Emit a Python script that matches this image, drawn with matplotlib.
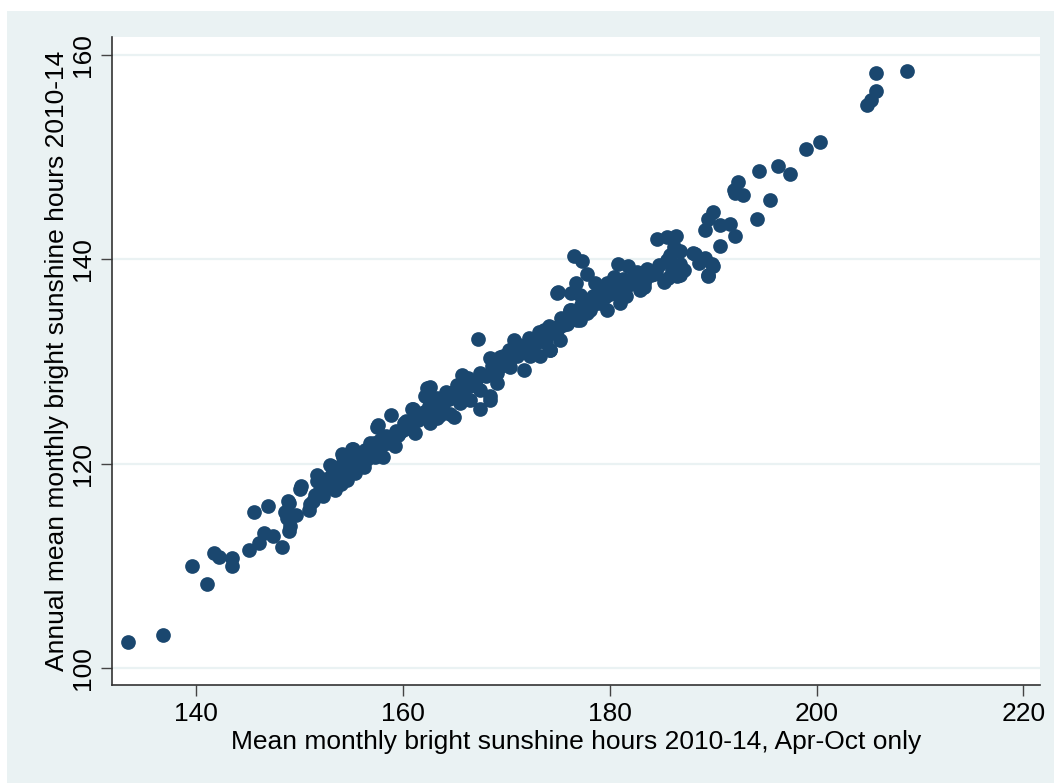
import matplotlib
matplotlib.use("Agg")
import matplotlib.pyplot as plt
from matplotlib.patches import Rectangle

# Apr-Oct sunshine (x) vs annual sunshine (y), hours/month 2010-14
apr_oct = [
    133.45, 136.8, 139.6, 141.1, 141.7, 142.2, 143.5, 143.5, 145.1, 146.1,
    146.6, 147.4, 148.3, 149.0, 145.6, 147.0, 149.0, 148.8, 150.1, 151.7,
    151.3, 150.2, 153.4, 152.3, 151.0, 152.0, 150.9, 148.9, 149.7, 148.6,
    149.1, 153.3, 153.0, 151.7, 154.6, 155.4, 156.2, 154.1, 155.1, 157.3,
    156.8, 158.1, 159.2, 159.6, 157.6, 160.1, 158.9, 161.2, 162.6, 162.0,
    161.0, 162.1, 162.3, 163.9, 158.4, 155.2, 154.2, 155.9, 157.8, 153.0,
    154.2, 155.2, 157.5, 160.9, 164.9, 163.6, 168.4, 170.7,
    167.3, 168.4, 165.7, 166.2, 162.6, 164.6, 163.9, 163.3, 164.6, 165.5,
    166.5, 167.5, 167.5, 168.4, 167.1, 169.1, 169.1, 169.7, 170.4, 171.3,
    171.7, 172.3, 172.9, 173.6, 174.2, 175.2, 174.9, 176.2, 176.8, 177.8,
    174.9, 170.7, 171.0, 165.9, 163.6,
    176.5, 177.3, 177.8, 176.7, 175.0, 176.3, 177.1, 178.6, 176.3, 180.8,
    181.8, 182.6, 180.4, 181.3, 183.3, 184.3, 186.2, 186.8, 180.7, 179.7,
    181.6, 181.0, 179.1, 178.1, 179.7, 177.1, 175.9, 174.9, 173.9, 173.8,
    174.2, 173.3, 178.4, 177.5, 181.6, 182.9, 179.7,
    184.6, 185.5, 186.4, 186.2, 185.8, 185.5, 186.8, 188.1, 188.6, 189.9,
    189.5, 186.8, 186.5, 185.2, 184.2, 183.4, 183.3,
    208.7, 205.7, 205.7, 205.3, 204.9, 200.3, 199.0, 196.3, 197.4, 194.4,
    192.4, 192.0, 192.9, 192.1, 195.5, 194.2, 190.0, 189.5, 189.2, 190.7,
    191.6, 192.1, 190.7, 188.2, 189.2, 190.0, 189.5,
    151.5, 152.5, 153.5, 154.0, 154.5, 155.0, 155.5, 156.0, 156.5, 157.0,
    157.5, 158.0, 158.5, 159.0, 159.5, 160.0, 160.5, 161.0, 161.5, 163.0,
    163.5, 164.0, 164.5, 165.0, 165.5, 166.0, 166.5, 167.0, 168.0, 168.5,
    169.0, 169.5, 170.0, 170.5, 171.0, 171.5, 172.0, 172.5, 173.0, 173.5,
    174.0, 174.5, 175.0, 175.5, 176.0, 176.5, 177.0, 177.5, 178.0, 178.5,
    179.0, 179.5, 180.0, 180.5, 181.0, 181.5, 182.0, 182.5, 183.0, 184.0,
    184.5,
    152.0, 153.2, 154.3, 155.3, 156.3, 157.2, 158.2, 159.3, 160.3, 161.3,
    162.5, 163.3, 164.2, 165.2, 166.3, 167.5, 168.6, 169.4, 170.3, 171.2,
    172.2, 173.2, 174.1, 175.3, 176.2, 177.2, 178.3, 179.3, 180.3, 181.3,
    182.3, 183.6, 184.8, 185.6, 186.0, 187.2,
]
annual = [
    102.5, 103.2, 110.0, 108.2, 111.3, 110.9, 110.8, 110.0, 111.6, 112.2,
    113.2, 112.9, 111.8, 113.4, 115.3, 115.9, 116.2, 114.7, 117.5, 118.3,
    116.3, 117.8, 117.4, 116.8, 116.1, 117.4, 115.5, 116.3, 115.0, 115.3,
    113.9, 119.7, 118.7, 118.9, 118.4, 119.1, 119.7, 120.9, 121.4, 120.7,
    122.0, 120.7, 121.7, 123.0, 123.8, 124.0, 124.8, 123.0, 124.0, 125.1,
    125.4, 126.6, 127.4, 125.3, 122.7, 120.4, 119.4, 121.0, 122.3, 119.9,
    120.7, 121.4, 123.6, 125.4, 124.6, 124.8, 126.2, 131.5,
    132.2, 130.3, 128.7, 128.0, 127.5, 126.9, 126.1, 124.5, 124.9, 125.9,
    126.2, 125.4, 127.2, 126.6, 128.2, 127.9, 128.9, 130.5, 129.5, 131.5,
    129.2, 130.5, 131.8, 133.1, 131.1, 132.1, 133.4, 135.0, 134.1, 134.7,
    136.7, 132.1, 130.5, 127.2, 125.6,
    140.3, 139.8, 138.6, 137.7, 136.8, 136.7, 136.5, 137.7, 135.0, 139.5,
    139.3, 138.8, 138.3, 138.0, 137.7, 138.6, 138.6, 138.5, 137.0, 136.7,
    136.4, 135.7, 135.7, 135.0, 135.0, 134.1, 133.7, 133.1, 132.8, 131.8,
    131.1, 130.5, 136.4, 135.7, 137.3, 137.0, 137.7,
    142.0, 142.2, 142.3, 141.2, 140.4, 139.9, 140.8, 140.6, 139.6, 139.5,
    138.4, 139.5, 138.4, 137.8, 138.8, 138.1, 137.3,
    158.46, 158.2, 156.5, 155.6, 155.1, 151.5, 150.8, 149.1, 148.4, 148.6,
    147.6, 146.8, 146.3, 146.5, 145.8, 143.9, 144.6, 143.9, 142.9, 143.4,
    143.5, 142.3, 141.3, 140.5, 140.1, 139.3, 138.5,
    116.9, 117.6, 118.2, 118.0, 119.0, 119.3, 119.8, 120.2, 120.5, 121.0,
    121.4, 121.8, 122.0, 122.5, 122.8, 123.3, 123.5, 124.0, 124.3, 125.2,
    125.8, 126.0, 126.3, 126.8, 127.0, 127.4, 127.6, 127.8, 128.6, 128.9,
    129.3, 129.6, 130.0, 130.3, 130.7, 131.0, 131.3, 131.6, 132.0, 132.4,
    132.6, 133.0, 133.3, 133.6, 134.0, 134.3, 134.6, 135.0, 135.3, 135.6,
    136.0, 136.3, 136.6, 136.9, 137.1, 137.4, 137.6, 137.9, 138.2, 138.5,
    138.9,
    118.6, 119.3, 120.1, 120.6, 121.3, 122.0, 122.6, 123.2, 124.2, 124.9,
    125.6, 126.4, 127.0, 127.7, 128.4, 128.9, 129.6, 130.4, 131.1, 131.6,
    132.3, 132.9, 133.5, 134.3, 134.9, 135.5, 136.0, 136.8, 137.4, 138.1,
    138.6, 139.1, 139.4, 138.2, 139.0, 139.0,
]
x_ticks = [140, 160, 180, 200, 220]
y_ticks = [100, 120, 140, 160]

BG = "#eaf2f3"
NAVY = "#1a476f"

plt.rcParams['font.family'] = ['Liberation Sans', 'DejaVu Sans']

fig = plt.figure(figsize=(10.54, 7.83), dpi=100, facecolor="white")
# stata style outer region (white strip on top and left)
fig.patches.append(Rectangle((7 / 1054, 0), 1, 1 - 11 / 783, transform=fig.transFigure,
                             facecolor=BG, edgecolor="none", zorder=-10))

ax = fig.add_axes([112 / 1054, 98 / 783, 928 / 1054, 648 / 783])
ax.set_zorder(1)
ax.set_facecolor("white")
ax.scatter(apr_oct, annual, s=112, color=NAVY, linewidths=0, zorder=3)

ax.set_xlim(131.88, 221.6)
ax.set_ylim(98.34, 161.76)
ax.set_xticks(x_ticks)
ax.set_yticks(y_ticks)
ax.set_xticklabels([str(t) for t in x_ticks])
ax.set_yticklabels([str(t) for t in y_ticks], rotation=90, va="center")
ax.tick_params(axis="both", length=8, width=1, color="#444444", labelsize=19, pad=4)
ax.yaxis.grid(True, color=BG, linewidth=1.6, zorder=0)
ax.set_axisbelow(True)

for side in ["top", "right"]:
    ax.spines[side].set_visible(False)
for side in ["left", "bottom"]:
    ax.spines[side].set_color("#333333")
    ax.spines[side].set_linewidth(1.2)

ax.set_xlabel("Mean monthly bright sunshine hours 2010-14, Apr-Oct only", fontsize=19, labelpad=3)
ax.set_ylabel("Annual mean monthly bright sunshine hours 2010-14", fontsize=19, labelpad=2)

fig.savefig("out.png", dpi=100, facecolor=fig.get_facecolor())
